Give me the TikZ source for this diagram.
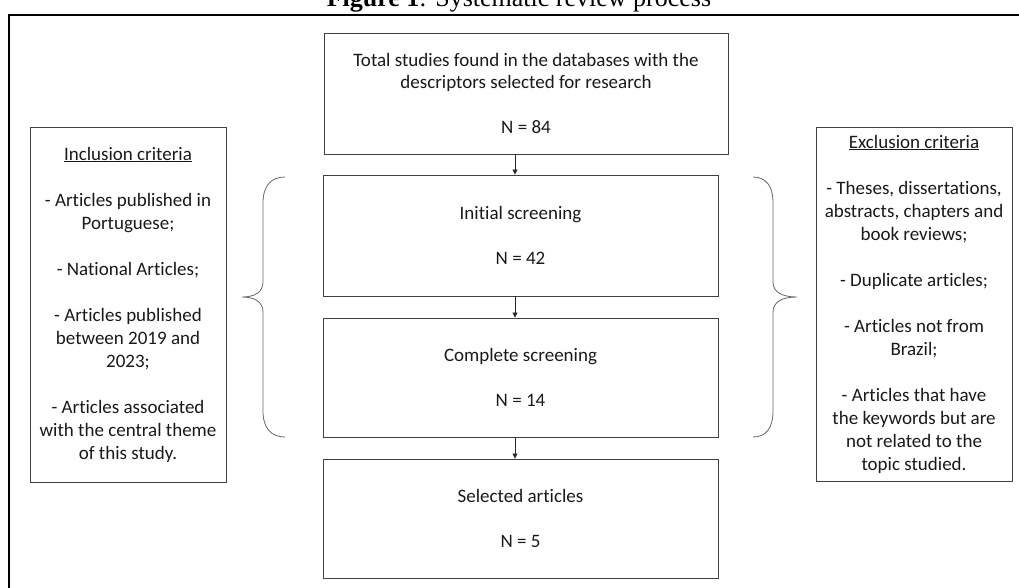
\documentclass[tikz,border=0pt]{standalone}
\usepackage{fontspec}
\setmainfont[Ligatures=NoCommon]{Carlito}
\newfontfamily\titlefont{Liberation Serif}
\usetikzlibrary{arrows.meta}
\tikzset{
  box/.style={draw=black!75, line width=0.9pt, align=center, inner sep=0pt,
    font=\fontsize{19}{22.5}\selectfont, text=black!90},
  sidebox/.style={box, font=\fontsize{19}{23}\selectfont},
  arr/.style={-{Triangle[width=5pt,length=5pt]}, line width=0.8pt, draw=black!85},
  bracepath/.style={draw=black!60, line width=0.8pt},
  frame/.style={draw=black, line width=2pt}
}
\begin{document}
\begin{tikzpicture}[x=1pt,y=-1pt]
\useasboundingbox (0,0) rectangle (1019,587);
\clip (0,0) rectangle (1019,587);

\node[font=\titlefont\fontsize{26}{30}\selectfont, anchor=base] (title) at (519,6)
  {\textbf{Figure 1}: Systematic review process};
\draw[frame] (8.5,600) -- (8.5,14.5) -- (1030,14.5);

\node[box, minimum width=404pt, minimum height=121pt] (total) at (526,93.5)
  {Total studies found in the databases with the\\descriptors selected for research\\[22.5pt]N = 84};
\node[box, minimum width=395pt, minimum height=121pt] (init) at (520.5,235.5)
  {Initial screening\\[22.5pt]N = 42};
\node[box, minimum width=395pt, minimum height=119pt] (comp) at (520.5,377.5)
  {Complete screening\\[22.5pt]N = 14};
\node[box, minimum width=395pt, minimum height=119pt] (sel) at (520.5,518.5)
  {Selected articles\\[22.5pt]N = 5};

\node[sidebox, minimum width=196pt, minimum height=355pt] (incl) at (128,304.5)
  {\underline{Inclusion criteria}\\[23pt]
   - Articles published in\\Portuguese;\\[23pt]
   - National Articles;\\[23pt]
   - Articles published\\between 2019 and\\2023;\\[23pt]
   - Articles associated\\with the central theme\\of this study.};
\node[sidebox, minimum width=196pt, minimum height=354pt] (excl) at (914,304)
  {\underline{Exclusion criteria}\\[23pt]
   - Theses, dissertations,\\abstracts, chapters and\\book reviews;\\[23pt]
   - Duplicate articles;\\[23pt]
   - Articles not from\\Brazil;\\[23pt]
   - Articles that have\\the keywords but are\\not related to the\\topic studied.};

\coordinate (ax) at (515,0);
\draw[arr] (total.south -| ax) -- (init.north -| ax);
\draw[arr] (init.south -| ax) -- (comp.north -| ax);
\draw[arr] (comp.south -| ax) -- (sel.north -| ax);

% left brace
\draw[bracepath] (285,177) .. controls (271,177) and (263,186) .. (263,203)
  -- (263,282) .. controls (263,292) and (255,297) .. (242,297)
  .. controls (255,297) and (263,302) .. (263,312)
  -- (263,411) .. controls (263,428) and (271,437) .. (285,437);
% right brace
\draw[bracepath] (753,177) .. controls (766,177) and (773,186) .. (773,203)
  -- (773,282) .. controls (773,292) and (782,297) .. (797,297)
  .. controls (782,297) and (773,302) .. (773,312)
  -- (773,411) .. controls (773,428) and (766,437) .. (753,437);
\end{tikzpicture}
\end{document}
